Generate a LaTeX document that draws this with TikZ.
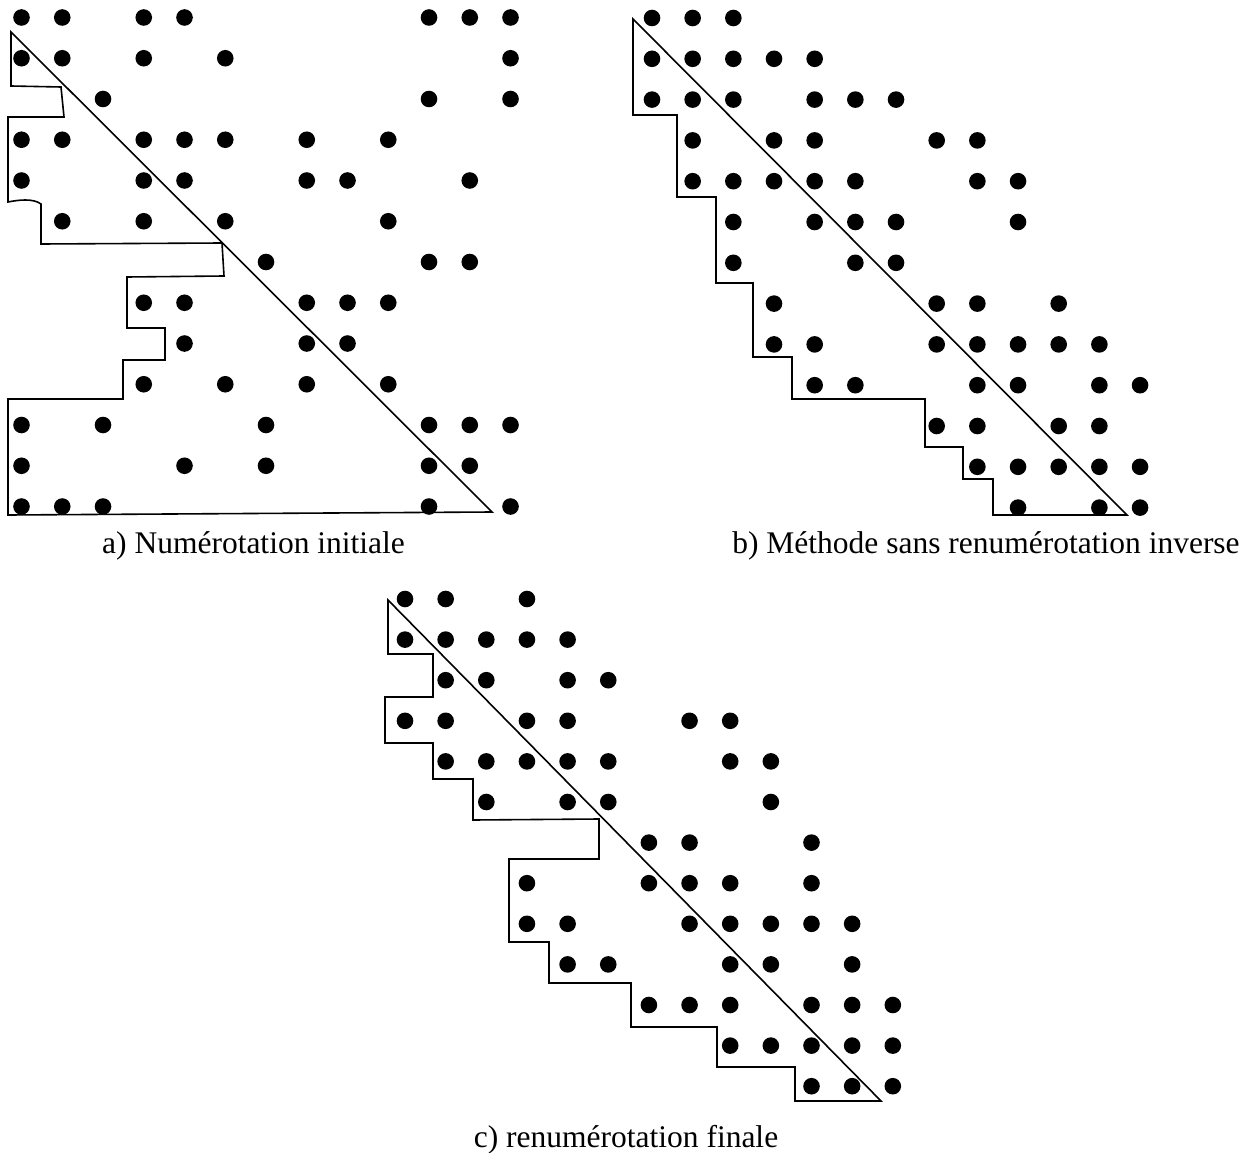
\documentclass[tikz,border=0pt]{standalone}
\usepackage{fontspec}
\setmainfont{Liberation Serif}
\begin{document}
\begin{tikzpicture}[x=1pt,y=-1pt,
  profile/.style={line width=1.6pt, line join=miter},
  caption/.style={anchor=base, inner sep=0pt, font=\fontsize{31.5}{36}\selectfont},
  nz/.style={fill=black}]
\useasboundingbox (0,0) rectangle (1256,1153);

% ---------- a) initial numbering ----------
\foreach \r/\cols in {0/{0,1,3,4,10,11,12}, 1/{0,1,3,5,12}, 2/{2,10,12},
    3/{0,1,3,4,5,7,9}, 4/{0,3,4,7,8,11}, 5/{1,3,5,9}, 6/{6,10,11},
    7/{3,4,7,8,9}, 8/{4,7,8}, 9/{3,5,7,9}, 10/{0,2,6,10,11,12},
    11/{0,4,6,10,11}, 12/{0,1,2,10,12}}
  \foreach \c in \cols
    \fill[nz] (21.5+40.75*\c, 17.5+40.75*\r) circle[radius=8.3pt];

\draw[profile] (11,32) -- (11,86) -- (61,87) -- (64,117) -- (8,117) -- (8,202)
  .. controls (18,200) and (33,198) .. (41,204) -- (41,244) -- (222,243)
  -- (224,276) -- (127,277) -- (127,328) -- (165,328) -- (165,360)
  -- (123,360) -- (123,399) -- (8,399) -- (8,515) -- (492,512) -- cycle;

\node[caption] (capa) at (253.5,553) {a) Numérotation initiale};

% ---------- b) method without reverse renumbering ----------
\foreach \r/\cols in {0/{0,1,2}, 1/{0,1,2,3,4}, 2/{0,1,2,4,5,6},
    3/{1,3,4,7,8}, 4/{1,2,3,4,5,8,9}, 5/{2,4,5,6,9}, 6/{2,5,6},
    7/{3,7,8,10}, 8/{3,4,7,8,9,10,11}, 9/{4,5,8,9,11,12}, 10/{7,8,10,11},
    11/{8,9,10,11,12}, 12/{9,11,12}}
  \foreach \c in \cols
    \fill[nz] (652+40.67*\c, 18+40.8*\r) circle[radius=8.3pt];

\draw[profile] (633,19) -- (633,115) -- (677,115) -- (677,197) -- (716,197)
  -- (716,283) -- (753,283) -- (753,357) -- (792,357) -- (792,399)
  -- (925,399) -- (925,447) -- (963,447) -- (963,479) -- (993,479)
  -- (993,515) -- (1127,515) -- cycle;

\node[caption] (capb) at (986,553) {b) Méthode sans renumérotation inverse};

% ---------- c) final renumbering ----------
\foreach \r/\cols in {0/{0,1,3}, 1/{0,1,2,3,4}, 2/{1,2,4,5},
    3/{0,1,3,4,7,8}, 4/{1,2,3,4,5,8,9}, 5/{2,4,5,9}, 6/{6,7,10},
    7/{3,6,7,8,10}, 8/{3,4,7,8,9,10,11}, 9/{4,5,8,9,11},
    10/{6,7,8,10,11,12}, 11/{8,9,10,11,12}, 12/{10,11,12}}
  \foreach \c in \cols
    \fill[nz] (405+40.65*\c, 599+40.6*\r) circle[radius=8.3pt];

\draw[profile] (388,600) -- (388,654) -- (433,654) -- (433,697) -- (385,697)
  -- (385,743) -- (433,743) -- (433,779) -- (473,779) -- (473,820)
  -- (599,819) -- (599,859) -- (509,859) -- (509,942) -- (549,942)
  -- (549,983) -- (631,983) -- (631,1027) -- (717,1027) -- (717,1067)
  -- (795,1067) -- (795,1101) -- (881,1101) -- cycle;

\node[caption] (capc) at (626,1147) {c) renumérotation finale};
\end{tikzpicture}
\end{document}
